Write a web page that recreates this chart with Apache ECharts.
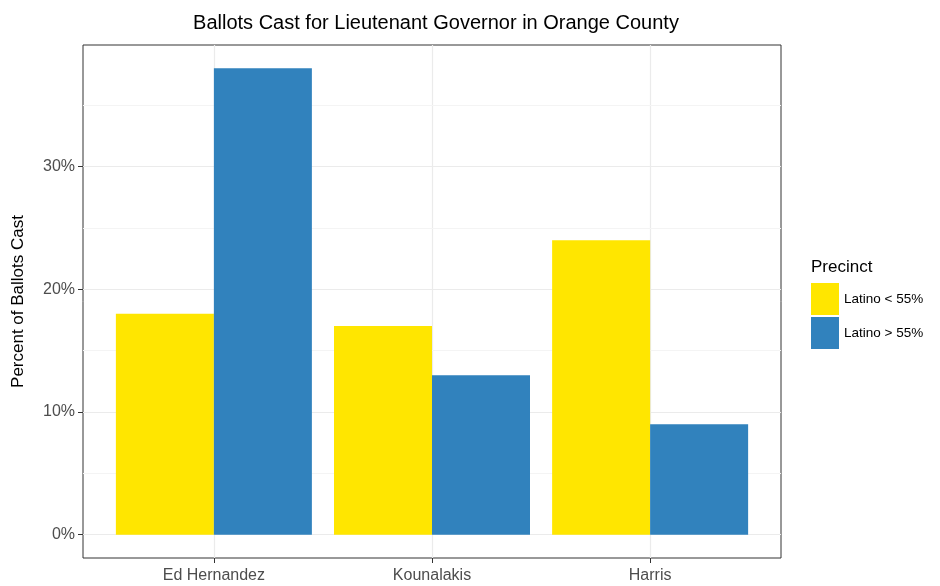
<!DOCTYPE html>
<html><head><meta charset="utf-8">
<script src="https://cdn.jsdelivr.net/npm/echarts@6/dist/echarts.min.js"></script>
<style>html,body{margin:0;padding:0;background:#fff}#c{width:940px;height:586px}</style>
</head><body><div id="c"></div>
<script>
const categories = ['Ed Hernandez', 'Kounalakis', 'Harris'];
const latinoUnder55 = [18, 17, 24];
const latinoOver55 = [38, 13, 9];
const yTicks = [0, 10, 20, 30];
const yMinor = [5, 15, 25, 35];
const seriesNames = ['Latino < 55%', 'Latino > 55%'];
const positions = categories.map((c, i) => i + 1);

const font = 'Liberation Sans, Arial, Helvetica, sans-serif';
const chart = echarts.init(document.getElementById('c'));
chart.setOption({
  animation: false,
  title: {
    text: 'Ballots Cast for Lieutenant Governor in Orange County',
    left: 431, top: 8, textAlign: 'center',
    textStyle: { fontFamily: font, fontSize: 20, fontWeight: 'normal', color: '#000' }
  },
  grid: { left: 83, top: 45, width: 698, height: 513, show: true, borderColor: '#333', borderWidth: 1, backgroundColor: 'transparent' },
  legend: {
    orient: 'vertical', left: 811, top: 283, padding: 0, itemWidth: 28, itemHeight: 32, itemGap: 2,
    icon: 'rect', data: seriesNames,
    textStyle: { fontFamily: font, fontSize: 13.5, color: '#000' }
  },
  graphic: [{
    type: 'text', left: 811, top: 259,
    style: { text: 'Precinct', font: '17px ' + font, fill: '#000' }
  }],
  xAxis: {
    type: 'value', min: 0.4, max: 3.6,
    axisLine: { show: false, onZero: false },
    axisTick: { show: true, length: 5, lineStyle: { color: '#333' }, customValues: positions },
    axisLabel: { customValues: positions, formatter: v => categories[Math.round(v) - 1] || '', fontFamily: font, fontSize: 16, color: '#4D4D4D', margin: 10 },
    splitLine: { show: true, lineStyle: { color: '#EBEBEB', width: 1.2 } }
  },
  yAxis: {
    type: 'value', min: -1.9, max: 39.9,
    name: 'Percent of Ballots Cast', nameLocation: 'middle', nameGap: 56,
    nameTextStyle: { fontFamily: font, fontSize: 17, color: '#000' },
    axisLine: { show: false, onZero: false },
    axisTick: { show: true, length: 5, lineStyle: { color: '#333' }, customValues: yTicks },
    axisLabel: { customValues: yTicks, formatter: v => v + '%', fontFamily: font, fontSize: 16, color: '#4D4D4D', margin: 8 },
    splitLine: { show: true, lineStyle: { color: '#EBEBEB', width: 1.2 } }
  },
  series: [
    {
      name: seriesNames[0], type: 'bar', barWidth: 98, barGap: 0,
      itemStyle: { color: '#FFE600' },
      data: positions.map((p, i) => [p, latinoUnder55[i]]),
      markLine: {
        silent: true, symbol: 'none', label: { show: false }, z: 1,
        lineStyle: { color: '#F4F4F4', type: 'solid', width: 1 },
        data: yMinor.map(v => ({ yAxis: v }))
      }
    },
    {
      name: seriesNames[1], type: 'bar', barWidth: 98, barGap: 0,
      itemStyle: { color: '#3182BD' },
      data: positions.map((p, i) => [p, latinoOver55[i]])
    }
  ]
});
</script></body></html>
